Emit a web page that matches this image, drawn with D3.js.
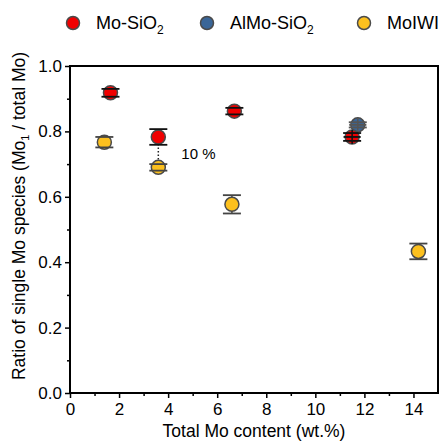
<!DOCTYPE html>
<html>
<head>
<meta charset="utf-8">
<script src="https://cdn.jsdelivr.net/npm/d3@7"></script>
<style>
  body { margin: 0; background: #fff; }
  svg { font-family: "Liberation Sans", Arial, sans-serif; }
</style>
</head>
<body>
<div id="chart"></div>
<script>
// series data: x = total Mo (wt.%), y = ratio, ey = y error, ex = x error
var seriesNames = ['Mo-SiO2', 'AlMo-SiO2', 'MoIWI']
var seriesColors = ['#f00000', '#3a6698', '#fcc01e']

var moSiO2 = [
  {x: 1.65, y: 0.918, ey: 0.012, ex: 0},
  {x: 3.6, y: 0.783, ey: 0.024, ex: 0},
  {x: 6.7, y: 0.862, ey: 0.010, ex: 0},
  {x: 11.5, y: 0.783, ey: 0.012, ex: 0.35}
]
var alMoSiO2 = [
  {x: 11.73, y: 0.82, ey: 0.008, ex: 0.35}
]
var moIWI = [
  {x: 1.4, y: 0.767, ey: 0.016, ex: 0},
  {x: 3.6, y: 0.69, ey: 0.010, ex: 0},
  {x: 6.6, y: 0.577, ey: 0.028, ex: 0},
  {x: 14.2, y: 0.433, ey: 0.024, ex: 0}
]
var xTicks = [0, 2, 4, 6, 8, 10, 12, 14]
var yTicks = [0.0, 0.2, 0.4, 0.6, 0.8, 1.0]

var width = 443, height = 442
var margin = {top: 66, right: 5, bottom: 49, left: 70}

var svg = d3.select('#chart').append('svg')
            .attr('width', width)
            .attr('height', height)

var x = d3.scaleLinear().domain([0, 15]).range([margin.left, width - margin.right])
var y = d3.scaleLinear().domain([0, 1]).range([height - margin.bottom, margin.top])

// axes
var xAxis = svg.append('g')
  .attr('transform', 'translate(0,' + y(0) + ')')
  .call(d3.axisBottom(x).tickValues(xTicks).tickSize(5).tickFormat(d3.format('d')))
svg.append('g')
  .attr('transform', 'translate(0,' + y(0) + ')')
  .call(d3.axisBottom(x).tickValues(d3.range(1, 15, 2)).tickSize(3).tickFormat(''))
var yAxis = svg.append('g')
  .attr('transform', 'translate(' + x(0) + ',0)')
  .call(d3.axisLeft(y).tickValues(yTicks).tickSize(5).tickFormat(d3.format('.1f')))
svg.append('g')
  .attr('transform', 'translate(' + x(0) + ',0)')
  .call(d3.axisLeft(y).tickValues([0.1, 0.3, 0.5, 0.7, 0.9]).tickSize(3).tickFormat(''))

svg.selectAll('.domain').remove()
svg.selectAll('.tick line').attr('stroke', '#000').attr('stroke-width', 1.5)
svg.selectAll('.tick text').attr('font-size', 17).attr('fill', '#000')
  .attr('font-family', '"Liberation Sans", Arial, sans-serif')
xAxis.selectAll('.tick text').attr('dy', '0.85em')
yAxis.selectAll('.tick text').attr('x', -8)

// frame
svg.append('rect')
  .attr('x', x(0)).attr('y', y(1))
  .attr('width', x(15) - x(0)).attr('height', y(0) - y(1))
  .attr('fill', 'none').attr('stroke', '#000').attr('stroke-width', 2)

// axis titles
svg.append('text')
  .attr('x', (x(0) + x(15)) / 2).attr('y', 437)
  .attr('text-anchor', 'middle').attr('font-size', 17.5)
  .text('Total Mo content (wt.%)')

var yl = svg.append('text')
  .attr('transform', 'translate(25,216) rotate(-90)')
  .attr('text-anchor', 'middle').attr('font-size', 17.5)
yl.append('tspan').text('Ratio of single Mo species (Mo')
yl.append('tspan').attr('font-size', 11).attr('dy', 4).text('1')
yl.append('tspan').attr('dy', -4).text(' / total Mo)')

// dotted connector for the 10 % difference
svg.append('line')
  .attr('x1', x(3.6)).attr('x2', x(3.6))
  .attr('y1', y(moSiO2[1].y)).attr('y2', y(moIWI[1].y))
  .attr('stroke', '#222').attr('stroke-width', 1.5)
  .attr('stroke-dasharray', '1.5,2')
svg.append('text')
  .attr('x', x(3.6) + 23).attr('y', y(0.735) + 6)
  .attr('font-size', 15).text('10 %')

function drawSeries(data, color, barColor) {
  var g = svg.append('g')
  var cap = 9
  // vertical bars
  g.selectAll('line.v').data(data).enter().append('line')
    .attr('x1', function(d) { return x(d.x) })
    .attr('x2', function(d) { return x(d.x) })
    .attr('y1', function(d) { return y(d.y + d.ey) })
    .attr('y2', function(d) { return y(d.y - d.ey) })
    .attr('stroke', barColor).attr('stroke-width', 1.5)
  g.selectAll('circle').data(data).enter().append('circle')
    .attr('cx', function(d) { return x(d.x) })
    .attr('cy', function(d) { return y(d.y) })
    .attr('r', 7)
    .attr('fill', color)
    .attr('stroke', '#4a4a4a').attr('stroke-width', 1.5)
  // caps
  ;[1, -1].forEach(function(s) {
    g.selectAll('line.cap' + s).data(data).enter().append('line')
      .attr('x1', function(d) { return x(d.x) - cap })
      .attr('x2', function(d) { return x(d.x) + cap })
      .attr('y1', function(d) { return y(d.y + s * d.ey) })
      .attr('y2', function(d) { return y(d.y + s * d.ey) })
      .attr('stroke', barColor).attr('stroke-width', 1.8)
  })
  // horizontal error (drawn over the marker)
  var hx = data.filter(function(d) { return d.ex > 0 })
  g.selectAll('line.h').data(hx).enter().append('line')
    .attr('x1', function(d) { return x(d.x - d.ex) })
    .attr('x2', function(d) { return x(d.x + d.ex) })
    .attr('y1', function(d) { return y(d.y) })
    .attr('y2', function(d) { return y(d.y) })
    .attr('stroke', barColor).attr('stroke-width', 1.8)
  g.selectAll('line.v2').data(hx).enter().append('line')
    .attr('x1', function(d) { return x(d.x) })
    .attr('x2', function(d) { return x(d.x) })
    .attr('y1', function(d) { return y(d.y) - 7 })
    .attr('y2', function(d) { return y(d.y) + 7 })
    .attr('stroke', barColor).attr('stroke-width', 1.5)
}

drawSeries(moIWI, seriesColors[2], '#444')
drawSeries(alMoSiO2, seriesColors[1], '#555')
drawSeries(moSiO2, seriesColors[0], '#111')

// legend
var legendX = [73, 207, 364]
var legend = svg.append('g')
seriesNames.forEach(function(name, i) {
  legend.append('circle')
    .attr('cx', legendX[i]).attr('cy', 23)
    .attr('r', 6.5)
    .attr('fill', seriesColors[i])
    .attr('stroke', '#4a4a4a').attr('stroke-width', 1.5)
  var t = legend.append('text')
    .attr('x', legendX[i] + 23).attr('y', 29)
    .attr('font-size', 18)
  if (name.indexOf('SiO2') > -1) {
    t.append('tspan').text(name.replace('SiO2', 'SiO'))
    t.append('tspan').attr('font-size', 12).attr('dy', 5).text('2')
  } else {
    t.text(name)
  }
})
</script>
</body>
</html>
